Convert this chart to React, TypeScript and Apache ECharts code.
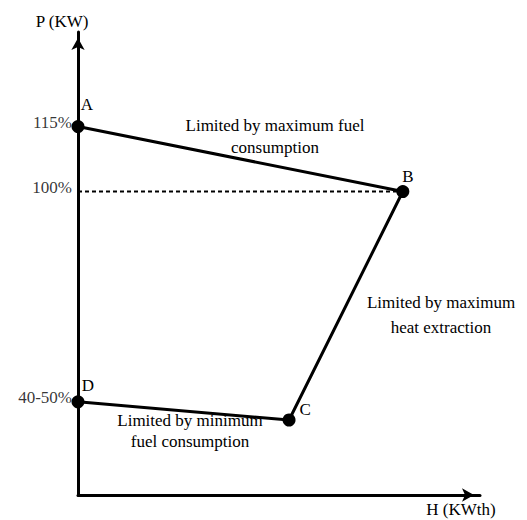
import React, { useEffect, useRef } from "react";
import * as echarts from "echarts";

// Operating envelope points (H in arbitrary % of axis span, P in %)
const pointNames = ["A", "B", "C", "D"];
const hValues = [0, 80.8, 52.5, 0];
const pValues = [115, 100, 47.3, 51.5];

// Reference (dashed) line at 100% P from the axis to B
const refH = [0, 80.8];
const refP = [100, 100];

// Y tick labels
const tickValues = [115, 100, 51.5];
const tickLabels = ["115%", "100%", "40-50%"];

const annotations = [
  "Limited by maximum fuel\nconsumption",
  "Limited by maximum\nheat extraction",
  "Limited by minimum\nfuel consumption",
];
const yName = "P (KW)";
const xName = "H (KWth)";

const FONT = "Liberation Serif";

export default function App() {
  const ref = useRef<HTMLDivElement>(null);
  useEffect(() => {
    if (!ref.current) return;
    const chart = echarts.init(ref.current, undefined, { renderer: "svg" });
    const labelOffsets = [
      [9, -22],
      [5, -15],
      [16, -11],
      [10, -16],
    ];
    const envelope = hValues.map((h, i) => ({
      value: [h, pValues[i]],
      label: {
        show: true,
        position: "inside",
        offset: labelOffsets[i],
        formatter: pointNames[i],
      },
    }));
    const textEl = (t: string, x: number, y: number, lh = 22) => ({
      type: "text",
      x,
      y,
      silent: true,
      style: {
        text: t,
        fill: "#000",
        fontSize: 17,
        fontFamily: FONT,
        textAlign: "center",
        textVerticalAlign: "middle",
        lineHeight: lh,
      },
    });
    chart.setOption({
      animation: false,
      grid: { left: 78, right: 47, top: 32, bottom: 25 },
      xAxis: {
        type: "value",
        min: 0,
        max: 100,
        axisLine: {
          show: true,
          symbol: ["none", "arrow"],
          symbolSize: [10, 12],
          symbolOffset: [0, -6],
          lineStyle: { color: "#000", width: 3 },
        },
        axisTick: { show: false },
        axisLabel: { show: false },
        splitLine: { show: false },
      },
      yAxis: {
        type: "value",
        min: 30,
        max: 136.8,
        axisLine: {
          show: true,
          symbol: ["none", "arrow"],
          symbolSize: [10, 12],
          symbolOffset: [0, -6],
          lineStyle: { color: "#000", width: 3 },
        },
        axisTick: { show: false },
        axisLabel: { show: false },
        splitLine: { show: false },
      },
      series: [
        {
          type: "line",
          data: refH.map((h, i) => [h, refP[i]]),
          symbol: "none",
          silent: true,
          lineStyle: { color: "#000", width: 2, type: [4, 3] },
          z: 1,
        },
        {
          type: "line",
          data: envelope,
          symbol: "circle",
          symbolSize: 13,
          silent: true,
          itemStyle: { color: "#000" },
          lineStyle: { color: "#000", width: 3 },
          label: {
            color: "#000",
            fontFamily: FONT,
            fontSize: 17,
          },
          z: 3,
        },
        {
          type: "scatter",
          data: tickValues.map((v) => [0, v]),
          symbolSize: 0,
          silent: true,
          itemStyle: { color: "#000" },
          label: {
            show: true,
            position: "left",
            distance: 6,
            offset: [0, -4],
            color: "#000",
            fontFamily: FONT,
            fontSize: 17,
            formatter: (p: any) => tickLabels[p.dataIndex],
          },
          z: 2,
        },
      ],
      graphic: [
        textEl(annotations[0], 275, 136),
        textEl(annotations[1], 441, 315, 25),
        textEl(annotations[2], 190, 431, 21),
        textEl(yName, 62, 21),
        textEl(xName, 461, 509),
      ],
    });
    return () => chart.dispose();
  }, []);
  return (
    <div
      ref={ref}
      style={{ position: "absolute", left: 0, top: 0, width: 527, height: 520, background: "#fff" }}
    />
  );
}
